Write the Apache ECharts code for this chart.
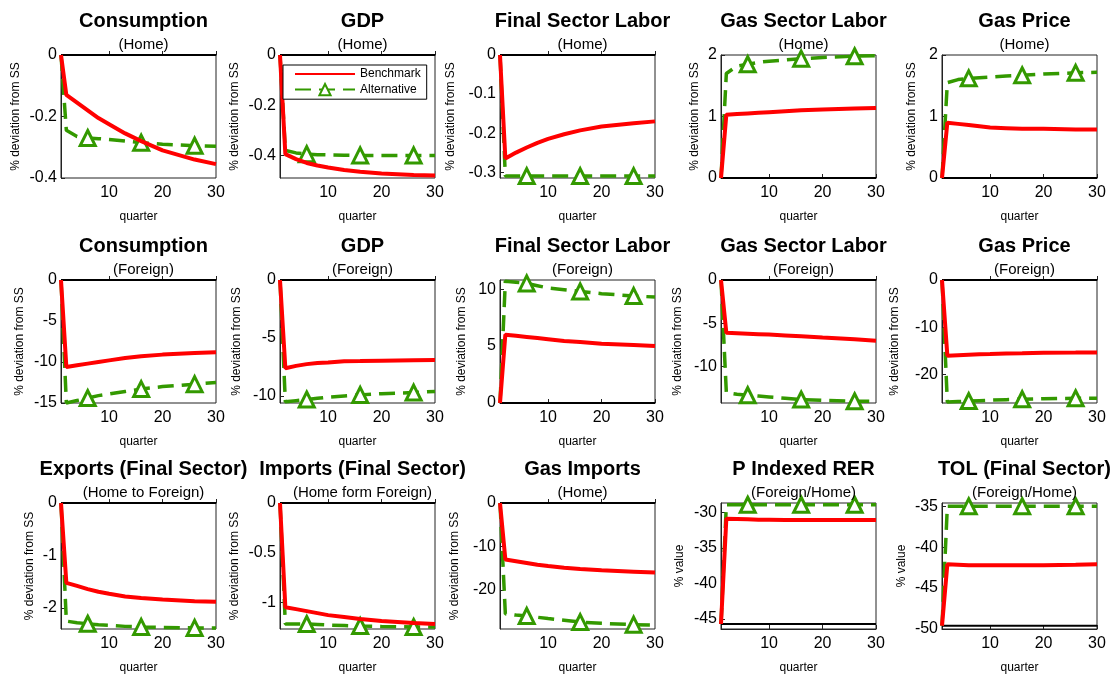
<!DOCTYPE html>
<html>
<head>
<meta charset="utf-8">
<script src="https://cdn.jsdelivr.net/npm/echarts@6/dist/echarts.min.js"></script>
<style>
  html, body { margin: 0; padding: 0; background: #fff; }
  #chart { width: 1110px; height: 677px; }
</style>
</head>
<body>
<div id="chart"></div>
<script>
const quarters = [1, 2, 4, 6, 8, 10, 13, 16, 20, 26, 30];
const markerQuarters = [6, 16, 26];

const titles = [
  "Consumption", "GDP", "Final Sector Labor", "Gas Sector Labor", "Gas Price",
  "Consumption", "GDP", "Final Sector Labor", "Gas Sector Labor", "Gas Price",
  "Exports (Final Sector)", "Imports (Final Sector)", "Gas Imports", "P Indexed RER", "TOL (Final Sector)"
];
const subtitles = [
  "(Home)", "(Home)", "(Home)", "(Home)", "(Home)",
  "(Foreign)", "(Foreign)", "(Foreign)", "(Foreign)", "(Foreign)",
  "(Home to Foreign)", "(Home form Foreign)", "(Home)", "(Foreign/Home)", "(Foreign/Home)"
];
const yNames = [
  "% deviation from SS", "% deviation from SS", "% deviation from SS", "% deviation from SS", "% deviation from SS",
  "% deviation from SS", "% deviation from SS", "% deviation from SS", "% deviation from SS", "% deviation from SS",
  "% deviation from SS", "% deviation from SS", "% deviation from SS", "% value", "% value"
];

// y axis ranges and tick labels
const yMin = [-0.4, -0.49, -0.315, 0, 0, -15, -10.6, 0, -14.2, -26, -2.4, -1.27, -29, -46.4, -50];
const yMax = [0, 0, 0, 2, 2, 0, 0, 10.8, 0, 0, 0, 0, 0, -28.7, -34.6];
const yTicks = [
  [0, -0.2, -0.4], [0, -0.2, -0.4], [0, -0.1, -0.2, -0.3], [0, 1, 2], [0, 1, 2],
  [0, -5, -10, -15], [0, -5, -10], [0, 5, 10], [0, -5, -10], [0, -10, -20],
  [0, -1, -2], [0, -0.5, -1], [0, -10, -20], [-30, -35, -40, -45], [-35, -40, -45, -50]
];
const xTicks = [10, 20, 30];

// steady state reference line (black)
const baseline = [0, 0, 0, 0, 0, 0, 0, 0, 0, 0, 0, 0, 0, -45.7, -49.6];

// Benchmark (red), values at `quarters`
const benchmark = [
  [0, -0.13, -0.155, -0.18, -0.205, -0.225, -0.255, -0.28, -0.31, -0.34, -0.355],
  [0, -0.395, -0.415, -0.43, -0.44, -0.448, -0.458, -0.465, -0.472, -0.478, -0.48],
  [0, -0.265, -0.25, -0.237, -0.225, -0.215, -0.203, -0.193, -0.183, -0.175, -0.17],
  [0, 1.03, 1.04, 1.05, 1.06, 1.07, 1.085, 1.1, 1.115, 1.13, 1.14],
  [0, 0.9, 0.88, 0.86, 0.84, 0.82, 0.81, 0.8, 0.8, 0.79, 0.79],
  [0, -10.6, -10.4, -10.2, -10.0, -9.8, -9.5, -9.3, -9.1, -8.9, -8.8],
  [0, -7.6, -7.4, -7.25, -7.15, -7.1, -7.0, -6.98, -6.95, -6.92, -6.9],
  [0, 6.0, 5.9, 5.8, 5.7, 5.6, 5.45, 5.35, 5.2, 5.1, 5.0],
  [0, -6.1, -6.15, -6.2, -6.25, -6.3, -6.4, -6.5, -6.65, -6.85, -7.0],
  [0, -16.0, -15.9, -15.8, -15.7, -15.65, -15.55, -15.5, -15.4, -15.35, -15.3],
  [0, -1.52, -1.58, -1.64, -1.69, -1.73, -1.78, -1.81, -1.84, -1.87, -1.88],
  [0, -1.05, -1.07, -1.09, -1.11, -1.13, -1.15, -1.17, -1.19, -1.21, -1.22],
  [0, -13.0, -13.4, -13.8, -14.2, -14.5, -14.9, -15.2, -15.5, -15.8, -16.0],
  [-45.7, -30.9, -30.95, -31.0, -31.05, -31.05, -31.1, -31.1, -31.1, -31.1, -31.1],
  [-49.6, -42.1, -42.15, -42.2, -42.2, -42.2, -42.2, -42.2, -42.2, -42.15, -42.1]
];

// Alternative (green dashed with triangles), values at `quarters`
const alternative = [
  [0, -0.245, -0.265, -0.27, -0.272, -0.275, -0.28, -0.285, -0.29, -0.295, -0.297],
  [0, -0.38, -0.39, -0.395, -0.397, -0.398, -0.399, -0.4, -0.4, -0.4, -0.4],
  [0, -0.31, -0.31, -0.31, -0.31, -0.31, -0.31, -0.31, -0.31, -0.31, -0.31],
  [0, 1.7, 1.82, 1.85, 1.88, 1.9, 1.92, 1.94, 1.96, 1.98, 1.99],
  [0, 1.55, 1.6, 1.62, 1.63, 1.64, 1.66, 1.67, 1.69, 1.71, 1.72],
  [0, -15.0, -14.7, -14.4, -14.1, -13.9, -13.6, -13.3, -13.0, -12.7, -12.5],
  [0, -10.5, -10.4, -10.3, -10.2, -10.1, -10.0, -9.9, -9.8, -9.7, -9.6],
  [0, 10.7, 10.6, 10.5, 10.3, 10.1, 9.95, 9.8, 9.6, 9.4, 9.3],
  [0, -13.0, -13.2, -13.3, -13.4, -13.5, -13.65, -13.8, -13.9, -14.0, -14.0],
  [0, -25.8, -25.7, -25.6, -25.5, -25.4, -25.3, -25.2, -25.1, -25.0, -25.0],
  [0, -2.25, -2.28, -2.3, -2.32, -2.33, -2.35, -2.36, -2.37, -2.38, -2.38],
  [0, -1.22, -1.22, -1.22, -1.225, -1.23, -1.235, -1.24, -1.245, -1.25, -1.25],
  [0, -25.5, -25.8, -26.0, -26.3, -26.6, -27.0, -27.4, -27.7, -28.0, -28.1],
  [-45.7, -28.95, -28.95, -28.95, -28.95, -28.95, -28.95, -28.95, -28.95, -28.95, -28.95],
  [-49.6, -35, -35, -35, -35, -35, -35, -35, -35, -35, -35]
];

// layout
const colLeft = [61, 280, 500, 721, 942];
const plotWidth = 155;
const rowTop = [55, 280, 503];
const rowHeight = [123, 123, 126];
const yNameGap = [39, 39, 43, 20, 24, 35, 37, 32, 37, 41, 25, 39, 39, 35, 34];

const FONT = "Liberation Sans, Arial, Helvetica, sans-serif";
const RED = "#ff0000";
const GREEN = "#339900";

const chart = echarts.init(document.getElementById("chart"));

const grid = [], xAxis = [], yAxis = [], series = [], title = [];

titles.forEach((name, i) => {
  const row = Math.floor(i / 5), col = i % 5;
  const left = colLeft[col], top = rowTop[row], h = rowHeight[row];

  grid.push({
    left: left, top: top, width: plotWidth, height: h,
    show: true, borderColor: "#222", borderWidth: 1, backgroundColor: "#fff"
  });

  title.push({
    text: name,
    subtext: subtitles[i],
    left: left + plotWidth / 2,
    top: top - 49,
    textAlign: "center",
    itemGap: 6,
    textStyle: { fontFamily: FONT, fontSize: 20, fontWeight: "bold", color: "#000" },
    subtextStyle: { fontFamily: FONT, fontSize: 15, color: "#000" }
  });

  xAxis.push({
    gridIndex: i, type: "value", min: 1, max: 30,
    name: "quarter", nameLocation: "middle", nameGap: 33,
    nameTextStyle: { fontFamily: FONT, fontSize: 12, color: "#000" },
    axisLine: { lineStyle: { color: "#222", width: 1 } },
    axisTick: { inside: true, length: 4, customValues: xTicks, lineStyle: { color: "#222" } },
    axisLabel: { customValues: xTicks, fontFamily: FONT, fontSize: 16, color: "#000", margin: 7 },
    splitLine: { show: false }
  });

  yAxis.push({
    gridIndex: i, type: "value", min: yMin[i], max: yMax[i],
    name: yNames[i], nameLocation: "middle", nameGap: yNameGap[i], nameRotate: 90,
    nameTextStyle: { fontFamily: FONT, fontSize: 12, color: "#000" },
    axisLine: { show: true, lineStyle: { color: "#222", width: 1 } },
    axisTick: { inside: true, length: 4, customValues: yTicks[i], lineStyle: { color: "#222" } },
    axisLabel: { customValues: yTicks[i], fontFamily: FONT, fontSize: 16, color: "#000", margin: 4 },
    splitLine: { show: false }
  });

  // black steady-state line
  series.push({
    type: "line", xAxisIndex: i, yAxisIndex: i, silent: true,
    symbol: "none", clip: false, z: 1,
    lineStyle: { color: "#000", width: 2 },
    data: quarters.map(q => [q, baseline[i]])
  });

  series.push({
    name: "Alternative", type: "line", xAxisIndex: i, yAxisIndex: i,
    symbol: "triangle", symbolSize: 15, showSymbol: true, clip: false, z: 2,
    lineStyle: { color: GREEN, width: 3.5, type: [16, 8] },
    itemStyle: { color: "#fff", borderColor: GREEN, borderWidth: 3 },
    data: quarters.map((q, k) => ({
      value: [q, alternative[i][k]],
      symbol: markerQuarters.includes(q) ? "triangle" : "none"
    }))
  });

  series.push({
    name: "Benchmark", type: "line", xAxisIndex: i, yAxisIndex: i,
    symbol: "none", clip: false, z: 3,
    lineStyle: { color: RED, width: 4 },
    itemStyle: { color: RED },
    data: quarters.map((q, k) => [q, benchmark[i][k]])
  });
});

chart.setOption({
  animation: false,
  backgroundColor: "#fff",
  title: title,
  legend: {
    data: [
      { name: "Benchmark", itemStyle: { opacity: 0 } },
      { name: "Alternative" }
    ],
    orient: "vertical",
    left: 283, top: 65,
    itemWidth: 60, itemHeight: 14, itemGap: 3,
    padding: [3, 6, 3, 11],
    backgroundColor: "#fff",
    borderColor: "#000", borderWidth: 1,
    textStyle: { fontFamily: FONT, fontSize: 12, color: "#000" }
  },
  grid: grid,
  xAxis: xAxis,
  yAxis: yAxis,
  series: series
});
</script>
</body>
</html>
